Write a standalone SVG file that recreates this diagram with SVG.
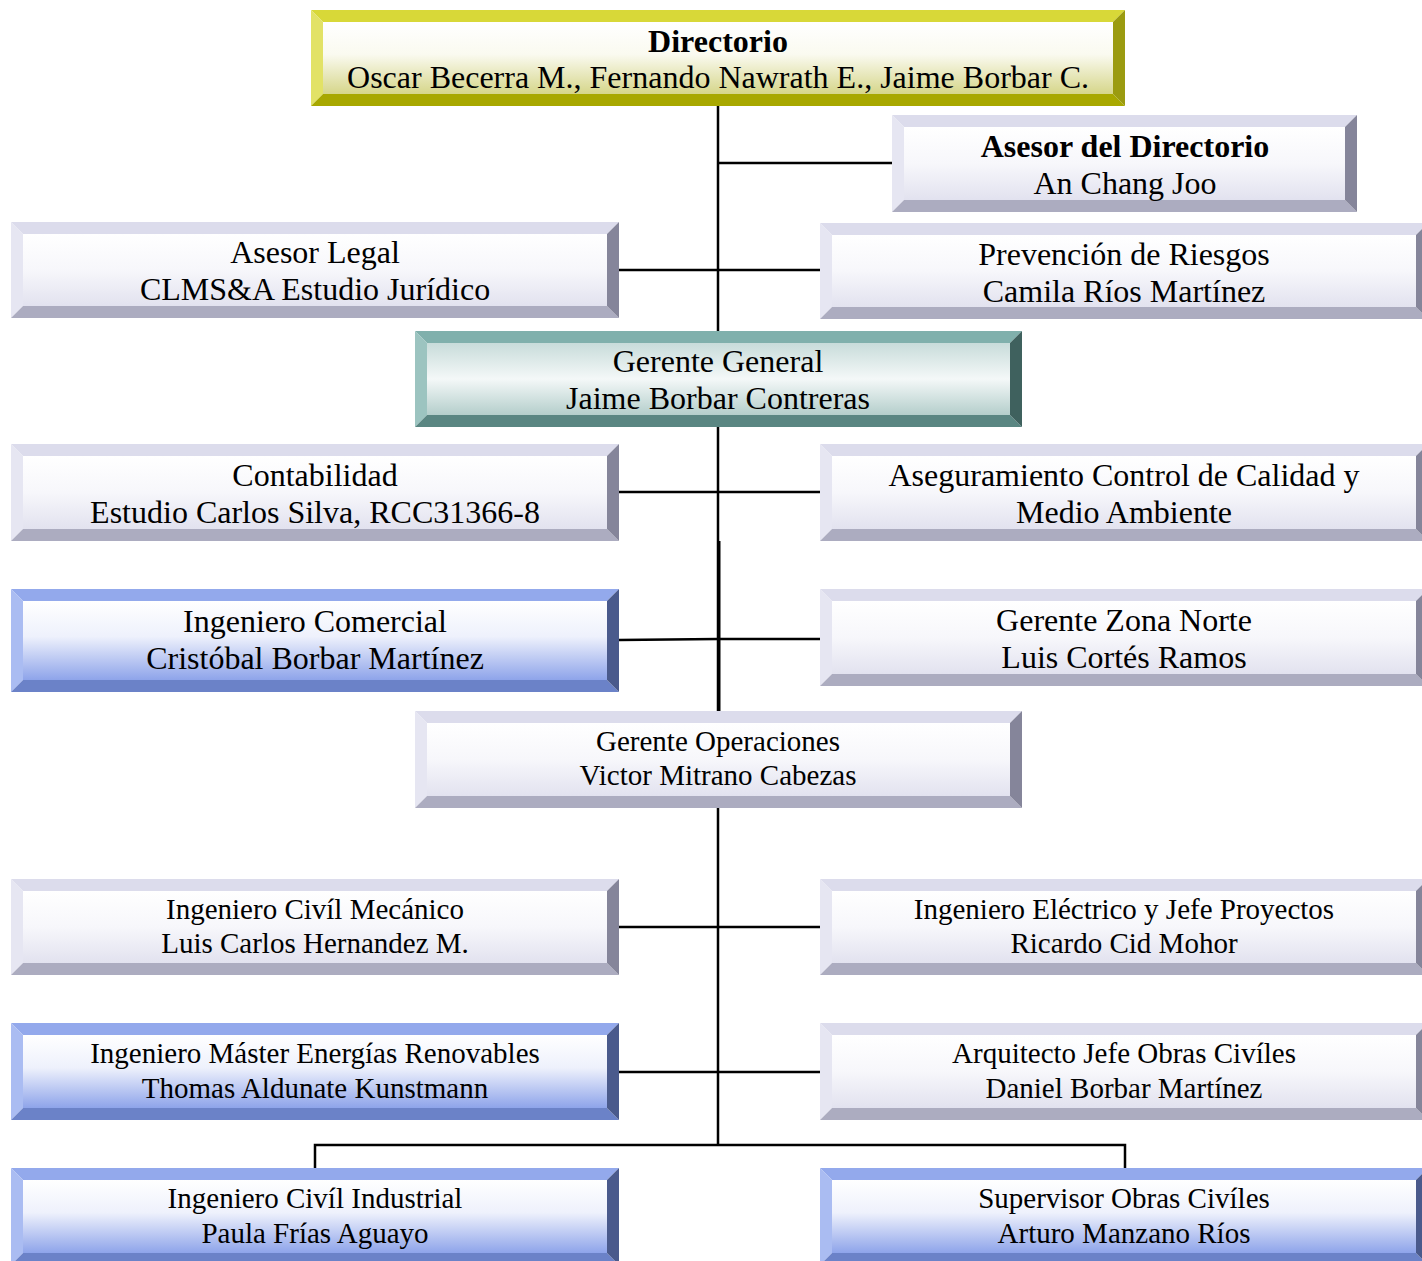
<svg xmlns="http://www.w3.org/2000/svg" width="1422" height="1261" viewBox="0 0 1422 1261">
<defs>
<linearGradient id="gGray" x1="0" y1="0" x2="0" y2="1"><stop offset="0" stop-color="#ffffff"/><stop offset="0.5" stop-color="#f7f7fb"/><stop offset="1" stop-color="#e2e2ef"/></linearGradient>
<linearGradient id="gYel" x1="0" y1="0" x2="0" y2="1"><stop offset="0" stop-color="#ffffff"/><stop offset="0.45" stop-color="#fafaf0"/><stop offset="1" stop-color="#d6d68a"/></linearGradient>
<linearGradient id="gTeal" x1="0" y1="0" x2="0" y2="1"><stop offset="0" stop-color="#c8dcda"/><stop offset="0.5" stop-color="#f4f8f8"/><stop offset="1" stop-color="#b4cecb"/></linearGradient>
<linearGradient id="gBlue" x1="0" y1="0" x2="0" y2="1"><stop offset="0" stop-color="#ffffff"/><stop offset="0.45" stop-color="#eef1fc"/><stop offset="1" stop-color="#8ea4ea"/></linearGradient>
<style>
.t{font-family:"Liberation Serif","Times New Roman",serif;font-size:32px;fill:#000;text-anchor:middle}
.s{font-size:29px}
.b{font-weight:bold}
.gray .tp{fill:#dcdcec}.gray .lf{fill:#e6e6f2}.gray .bt{fill:#acacc0}.gray .rt{fill:#85859a}.gray .in{fill:url(#gGray)}
.yel .tp{fill:#d8d838}.yel .lf{fill:#e2e266}.yel .bt{fill:#a8a800}.yel .rt{fill:#9b9b10}.yel .in{fill:url(#gYel)}
.teal .tp{fill:#80b0ac}.teal .lf{fill:#9cc4c0}.teal .bt{fill:#5a8682}.teal .rt{fill:#3f615e}.teal .in{fill:url(#gTeal)}
.blue .tp{fill:#93a9ec}.blue .lf{fill:#aabcf2}.blue .bt{fill:#6b82c8}.blue .rt{fill:#4a5a8c}.blue .in{fill:url(#gBlue)}
.ln{stroke:#000;stroke-width:2.5;fill:none}
</style>
</defs>
<rect width="1422" height="1261" fill="#fff"/>
<g id="connectors">
<path class="ln" d="M718 106V1145"/>
<path class="ln" d="M719 541V711" style="stroke-width:3"/>
<path class="ln" d="M718 163H892"/>
<path class="ln" d="M619 270H820"/>
<path class="ln" d="M619 492H820"/>
<path class="ln" d="M619 640L718 639H820"/>
<path class="ln" d="M619 927H820"/>
<path class="ln" d="M619 1072H820"/>
<path class="ln" d="M315 1168V1145H1125V1168"/>
</g>
<g id="directorio" class="yel">
<polygon class="tp" points="311,10 1125,10 1113,22 323,22"/>
<polygon class="lf" points="311,10 323,22 323,94 311,106"/>
<polygon class="bt" points="311,106 323,94 1113,94 1125,106"/>
<polygon class="rt" points="1125,10 1125,106 1113,94 1113,22"/>
<rect class="in" x="323" y="22" width="790" height="72"/>
<text class="t b" x="718" y="52">Directorio</text>
<text class="t" x="718" y="88">Oscar Becerra M., Fernando Nawrath E., Jaime Borbar C.</text>
</g>
<g id="asesor-directorio" class="gray">
<polygon class="tp" points="892,115 1357,115 1345,127 904,127"/>
<polygon class="lf" points="892,115 904,127 904,200 892,212"/>
<polygon class="bt" points="892,212 904,200 1345,200 1357,212"/>
<polygon class="rt" points="1357,115 1357,212 1345,200 1345,127"/>
<rect class="in" x="904" y="127" width="441" height="73"/>
<text class="t b" x="1125" y="157">Asesor del Directorio</text>
<text class="t" x="1125" y="194">An Chang Joo</text>
</g>
<g id="asesor-legal" class="gray">
<polygon class="tp" points="11,222 619,222 607,234 23,234"/>
<polygon class="lf" points="11,222 23,234 23,306 11,318"/>
<polygon class="bt" points="11,318 23,306 607,306 619,318"/>
<polygon class="rt" points="619,222 619,318 607,306 607,234"/>
<rect class="in" x="23" y="234" width="584" height="72"/>
<text class="t" x="315" y="263">Asesor Legal</text>
<text class="t" x="315" y="300">CLMS&amp;A Estudio Jurídico</text>
</g>
<g id="prevencion" class="gray">
<polygon class="tp" points="820,223 1428,223 1416,235 832,235"/>
<polygon class="lf" points="820,223 832,235 832,307 820,319"/>
<polygon class="bt" points="820,319 832,307 1416,307 1428,319"/>
<polygon class="rt" points="1428,223 1428,319 1416,307 1416,235"/>
<rect class="in" x="832" y="235" width="584" height="72"/>
<text class="t" x="1124" y="265">Prevención de Riesgos</text>
<text class="t" x="1124" y="302">Camila Ríos Martínez</text>
</g>
<g id="gerente-general" class="teal">
<polygon class="tp" points="415,331 1022,331 1010,343 427,343"/>
<polygon class="lf" points="415,331 427,343 427,415 415,427"/>
<polygon class="bt" points="415,427 427,415 1010,415 1022,427"/>
<polygon class="rt" points="1022,331 1022,427 1010,415 1010,343"/>
<rect class="in" x="427" y="343" width="583" height="72"/>
<text class="t" x="718" y="372">Gerente General</text>
<text class="t" x="718" y="409">Jaime Borbar Contreras</text>
</g>
<g id="contabilidad" class="gray">
<polygon class="tp" points="11,444 619,444 607,456 23,456"/>
<polygon class="lf" points="11,444 23,456 23,529 11,541"/>
<polygon class="bt" points="11,541 23,529 607,529 619,541"/>
<polygon class="rt" points="619,444 619,541 607,529 607,456"/>
<rect class="in" x="23" y="456" width="584" height="73"/>
<text class="t" x="315" y="486">Contabilidad</text>
<text class="t" x="315" y="523">Estudio Carlos Silva, RCC31366-8</text>
</g>
<g id="aseguramiento" class="gray">
<polygon class="tp" points="820,444 1428,444 1416,456 832,456"/>
<polygon class="lf" points="820,444 832,456 832,529 820,541"/>
<polygon class="bt" points="820,541 832,529 1416,529 1428,541"/>
<polygon class="rt" points="1428,444 1428,541 1416,529 1416,456"/>
<rect class="in" x="832" y="456" width="584" height="73"/>
<text class="t" x="1124" y="486">Aseguramiento Control de Calidad y</text>
<text class="t" x="1124" y="523">Medio Ambiente</text>
</g>
<g id="ing-comercial" class="blue">
<polygon class="tp" points="11,589 619,589 607,601 23,601"/>
<polygon class="lf" points="11,589 23,601 23,680 11,692"/>
<polygon class="bt" points="11,692 23,680 607,680 619,692"/>
<polygon class="rt" points="619,589 619,692 607,680 607,601"/>
<rect class="in" x="23" y="601" width="584" height="79"/>
<text class="t" x="315" y="632">Ingeniero Comercial</text>
<text class="t" x="315" y="669">Cristóbal Borbar Martínez</text>
</g>
<g id="zona-norte" class="gray">
<polygon class="tp" points="820,589 1428,589 1416,601 832,601"/>
<polygon class="lf" points="820,589 832,601 832,674 820,686"/>
<polygon class="bt" points="820,686 832,674 1416,674 1428,686"/>
<polygon class="rt" points="1428,589 1428,686 1416,674 1416,601"/>
<rect class="in" x="832" y="601" width="584" height="73"/>
<text class="t" x="1124" y="631">Gerente Zona Norte</text>
<text class="t" x="1124" y="668">Luis Cortés Ramos</text>
</g>
<g id="gerente-operaciones" class="gray">
<polygon class="tp" points="415,711 1022,711 1010,723 427,723"/>
<polygon class="lf" points="415,711 427,723 427,796 415,808"/>
<polygon class="bt" points="415,808 427,796 1010,796 1022,808"/>
<polygon class="rt" points="1022,711 1022,808 1010,796 1010,723"/>
<rect class="in" x="427" y="723" width="583" height="73"/>
<text class="t s" x="718" y="751">Gerente Operaciones</text>
<text class="t s" x="718" y="785">Victor Mitrano Cabezas</text>
</g>
<g id="ing-civil-mecanico" class="gray">
<polygon class="tp" points="11,879 619,879 607,891 23,891"/>
<polygon class="lf" points="11,879 23,891 23,963 11,975"/>
<polygon class="bt" points="11,975 23,963 607,963 619,975"/>
<polygon class="rt" points="619,879 619,975 607,963 607,891"/>
<rect class="in" x="23" y="891" width="584" height="72"/>
<text class="t s" x="315" y="919">Ingeniero Civíl Mecánico</text>
<text class="t s" x="315" y="953">Luis Carlos Hernandez M.</text>
</g>
<g id="ing-electrico" class="gray">
<polygon class="tp" points="820,879 1428,879 1416,891 832,891"/>
<polygon class="lf" points="820,879 832,891 832,963 820,975"/>
<polygon class="bt" points="820,975 832,963 1416,963 1428,975"/>
<polygon class="rt" points="1428,879 1428,975 1416,963 1416,891"/>
<rect class="in" x="832" y="891" width="584" height="72"/>
<text class="t s" x="1124" y="919">Ingeniero Eléctrico y Jefe Proyectos</text>
<text class="t s" x="1124" y="953">Ricardo Cid Mohor</text>
</g>
<g id="ing-master" class="blue">
<polygon class="tp" points="11,1023 619,1023 607,1035 23,1035"/>
<polygon class="lf" points="11,1023 23,1035 23,1108 11,1120"/>
<polygon class="bt" points="11,1120 23,1108 607,1108 619,1120"/>
<polygon class="rt" points="619,1023 619,1120 607,1108 607,1035"/>
<rect class="in" x="23" y="1035" width="584" height="73"/>
<text class="t s" x="315" y="1063">Ingeniero Máster Energías Renovables</text>
<text class="t s" x="315" y="1098">Thomas Aldunate Kunstmann</text>
</g>
<g id="arquitecto" class="gray">
<polygon class="tp" points="820,1023 1428,1023 1416,1035 832,1035"/>
<polygon class="lf" points="820,1023 832,1035 832,1108 820,1120"/>
<polygon class="bt" points="820,1120 832,1108 1416,1108 1428,1120"/>
<polygon class="rt" points="1428,1023 1428,1120 1416,1108 1416,1035"/>
<rect class="in" x="832" y="1035" width="584" height="73"/>
<text class="t s" x="1124" y="1063">Arquitecto Jefe Obras Civíles</text>
<text class="t s" x="1124" y="1098">Daniel Borbar Martínez</text>
</g>
<g id="ing-civil-industrial" class="blue">
<polygon class="tp" points="11,1168 619,1168 607,1180 23,1180"/>
<polygon class="lf" points="11,1168 23,1180 23,1253 11,1265"/>
<polygon class="bt" points="11,1265 23,1253 607,1253 619,1265"/>
<polygon class="rt" points="619,1168 619,1265 607,1253 607,1180"/>
<rect class="in" x="23" y="1180" width="584" height="73"/>
<text class="t s" x="315" y="1208">Ingeniero Civíl Industrial</text>
<text class="t s" x="315" y="1243">Paula Frías Aguayo</text>
</g>
<g id="supervisor" class="blue">
<polygon class="tp" points="820,1168 1428,1168 1416,1180 832,1180"/>
<polygon class="lf" points="820,1168 832,1180 832,1253 820,1265"/>
<polygon class="bt" points="820,1265 832,1253 1416,1253 1428,1265"/>
<polygon class="rt" points="1428,1168 1428,1265 1416,1253 1416,1180"/>
<rect class="in" x="832" y="1180" width="584" height="73"/>
<text class="t s" x="1124" y="1208">Supervisor Obras Civíles</text>
<text class="t s" x="1124" y="1243">Arturo Manzano Ríos</text>
</g>
</svg>
